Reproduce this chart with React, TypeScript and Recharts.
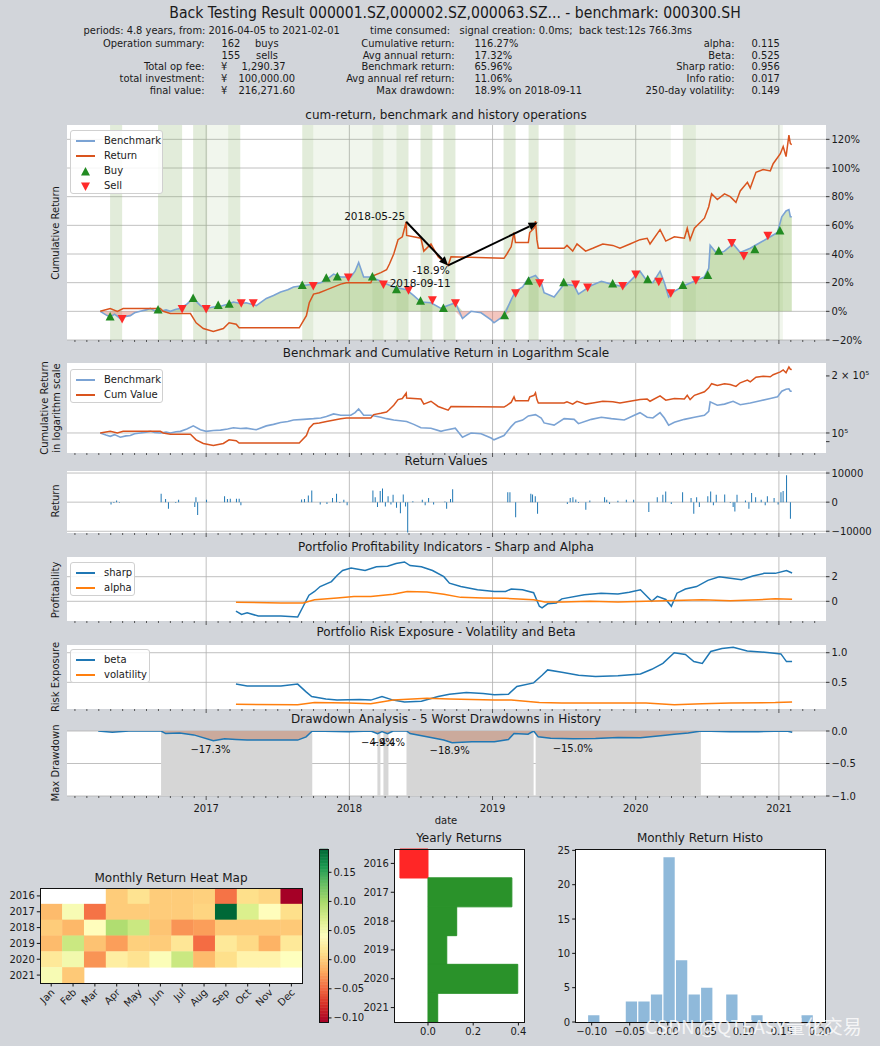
import React from 'react'
import {
  ComposedChart,
  BarChart,
  Line,
  Area,
  Bar,
  Scatter,
  Cell,
  XAxis,
  YAxis,
  CartesianGrid,
  ReferenceLine,
  ReferenceArea,
  ReferenceDot,
} from 'recharts'

const FONT = "'DejaVu Sans', sans-serif"
const COND = "'DejaVu Sans Condensed', 'Liberation Sans Narrow', 'DejaVu Sans', sans-serif"
const BG = '#d2d5da'
const GRID = '#b0b0b0'
const INK = '#1a1a1a'
const TK = { fontSize: 10, fill: INK, fontFamily: FONT }

const BENCH_C = '#7ba3d4'
const RET_C = '#d9541e'
const BLUE = '#1f77b4'
const ORANGE = '#ff7f0e'

// ---- time axis (fractional years) shared by the six stacked panels
const X_DOMAIN: [number, number] = [2016.028, 2021.329]
const YEARS = [2017, 2018, 2019, 2020, 2021]

// ---- cumulative return of benchmark / strategy  [year, return]
const BENCH_PTS: [number, number][] = [
  [2016.26, 0], [2016.3, -0.025], [2016.33, -0.04], [2016.36, -0.02], [2016.4, -0.05], [2016.44, -0.035],
  [2016.47, -0.03], [2016.5, -0.01], [2016.54, 0.0], [2016.58, 0.01], [2016.61, 0.02], [2016.64, 0.005],
  [2016.68, 0.0], [2016.72, 0.01], [2016.75, 0.0], [2016.79, 0.015], [2016.82, 0.02], [2016.865, 0.05],
  [2016.91, 0.09], [2016.96, 0.04], [2017.0, 0.02], [2017.05, 0.03], [2017.1, 0.035], [2017.15, 0.05],
  [2017.19, 0.065], [2017.24, 0.055], [2017.28, 0.06], [2017.35, 0.04], [2017.42, 0.09], [2017.47, 0.11],
  [2017.52, 0.135], [2017.57, 0.15], [2017.61, 0.17], [2017.68, 0.18], [2017.75, 0.19], [2017.8, 0.2],
  [2017.84, 0.22], [2017.89, 0.26], [2017.94, 0.24], [2018.01, 0.24], [2018.04, 0.28],
  [2018.065, 0.34], [2018.1, 0.24], [2018.15, 0.24], [2018.22, 0.21], [2018.26, 0.19],
  [2018.31, 0.17], [2018.4, 0.15], [2018.45, 0.11], [2018.5, 0.065], [2018.57, 0.06], [2018.64, 0.02],
  [2018.66, 0.03], [2018.74, 0.06], [2018.79, -0.05], [2018.85, 0.0], [2018.92, -0.01],
  [2018.99, -0.06], [2019.01, -0.08], [2019.08, -0.03], [2019.13, 0.08], [2019.16, 0.14],
  [2019.21, 0.17], [2019.25, 0.23], [2019.3, 0.25], [2019.34, 0.2], [2019.36, 0.13],
  [2019.43, 0.1], [2019.5, 0.19], [2019.57, 0.18], [2019.6, 0.12], [2019.69, 0.18],
  [2019.76, 0.21], [2019.83, 0.19], [2019.92, 0.17], [2019.99, 0.24], [2020.03, 0.28],
  [2020.08, 0.21], [2020.12, 0.2], [2020.17, 0.28], [2020.2, 0.2], [2020.23, 0.1],
  [2020.27, 0.14], [2020.34, 0.18], [2020.41, 0.21], [2020.48, 0.24], [2020.51, 0.3],
  [2020.52, 0.46], [2020.57, 0.4], [2020.62, 0.42], [2020.68, 0.47], [2020.73, 0.41],
  [2020.8, 0.44], [2020.87, 0.48], [2020.94, 0.52], [2020.99, 0.55], [2021.02, 0.66],
  [2021.05, 0.7], [2021.07, 0.71], [2021.08, 0.66], [2021.09, 0.66],
]

const RETURN_PTS: [number, number][] = [
  [2016.26, 0], [2016.33, 0.02], [2016.38, 0], [2016.42, 0.02], [2016.68, 0.02],
  [2016.7, 0], [2016.75, -0.015], [2016.89, -0.015], [2016.93, -0.08], [2016.98, -0.12],
  [2017.05, -0.14], [2017.12, -0.12], [2017.16, -0.08], [2017.21, -0.09], [2017.23, -0.115],
  [2017.65, -0.115], [2017.7, -0.03], [2017.72, 0.06], [2017.75, 0.12], [2017.79, 0.13],
  [2017.84, 0.15], [2017.94, 0.19], [2017.98, 0.2], [2018.15, 0.2], [2018.17, 0.25],
  [2018.22, 0.27], [2018.26, 0.29], [2018.28, 0.33], [2018.31, 0.4], [2018.34, 0.5],
  [2018.37, 0.52], [2018.397, 0.625], [2018.4, 0.53], [2018.5, 0.51], [2018.52, 0.42],
  [2018.57, 0.47], [2018.62, 0.38], [2018.69, 0.32], [2018.71, 0.38], [2019.08, 0.37],
  [2019.1, 0.4], [2019.13, 0.45], [2019.15, 0.55], [2019.16, 0.48], [2019.25, 0.48],
  [2019.26, 0.55], [2019.29, 0.58], [2019.3, 0.63], [2019.31, 0.5], [2019.32, 0.44],
  [2019.5, 0.44], [2019.52, 0.46], [2019.56, 0.42], [2019.59, 0.47], [2019.65, 0.42],
  [2019.7, 0.44], [2019.77, 0.47], [2019.84, 0.46], [2019.89, 0.44], [2019.96, 0.47],
  [2020.03, 0.5], [2020.08, 0.51], [2020.1, 0.47], [2020.17, 0.57], [2020.21, 0.49],
  [2020.27, 0.52], [2020.34, 0.51], [2020.36, 0.58], [2020.38, 0.5], [2020.41, 0.58],
  [2020.48, 0.65], [2020.51, 0.73], [2020.53, 0.82], [2020.57, 0.78], [2020.62, 0.82],
  [2020.66, 0.8], [2020.7, 0.76], [2020.73, 0.84], [2020.78, 0.9], [2020.8, 0.86],
  [2020.84, 0.97], [2020.89, 0.99], [2020.94, 0.98], [2020.96, 1.03], [2021.01, 1.1],
  [2021.03, 1.15], [2021.05, 1.08], [2021.07, 1.23], [2021.08, 1.17], [2021.09, 1.163],
]

const BUY_PTS: [number, number][] = [
  [2016.329, -0.04], [2016.664, 0.01], [2016.909, 0.09], [2017.084, 0.04], [2017.161, 0.05],
  [2017.671, 0.18], [2017.839, 0.23], [2017.916, 0.24], [2018.161, 0.24], [2018.329, 0.15],
  [2018.497, 0.07], [2018.657, 0.02], [2019.084, -0.03], [2019.252, 0.21], [2019.497, 0.2],
  [2019.839, 0.19], [2020.084, 0.22], [2020.329, 0.18], [2020.503, 0.25], [2020.58, 0.42],
  [2020.832, 0.43], [2021.007, 0.56],
]

const SELL_PTS: [number, number][] = [
  [2016.413, -0.05], [2016.832, 0.02], [2017.0, 0.02], [2017.245, 0.06], [2017.329, 0.06],
  [2017.748, 0.18], [2017.993, 0.24], [2018.238, 0.19], [2018.413, 0.15], [2018.58, 0.08],
  [2018.741, 0.06], [2019.161, 0.13], [2019.329, 0.2], [2019.58, 0.19], [2019.664, 0.17],
  [2019.909, 0.18], [2020.0, 0.26], [2020.161, 0.21], [2020.245, 0.13], [2020.42, 0.22],
  [2020.671, 0.48], [2020.755, 0.39], [2020.923, 0.53],
]

// holding periods shown as green bands  [start, end]
const HOLD_DARK: [number, number][] = [
  [2016.329, 2016.413], [2016.664, 2016.832], [2016.909, 2017.007], [2017.154, 2017.238],
  [2017.671, 2017.748], [2018.161, 2018.238], [2018.329, 2018.413], [2018.497, 2018.58],
  [2018.657, 2018.741], [2019.077, 2019.161], [2019.252, 2019.322], [2019.497, 2019.58],
  [2020.329, 2020.42],
]
const HOLD_LIGHT: [number, number][] = [
  [2017.007, 2017.154], [2017.748, 2018.161], [2018.238, 2018.329], [2019.58, 2020.245],
  [2020.42, 2020.503], [2020.503, 2021.028],
]

// ---- daily return values (bars)
const RET_BARS: [number, number][] = [
  [2016.336, -800], [2016.356, -300], [2016.375, 600], [2016.395, -200], [2016.686, 2900],
  [2016.717, 1100], [2016.737, -2300], [2016.788, -300], [2016.808, 800], [2016.921, -1700],
  [2016.929, 1700], [2016.941, -4400], [2017.003, 800], [2017.129, 2000], [2017.149, 1100],
  [2017.169, 1200], [2017.212, 1200], [2017.231, 1200], [2017.243, -1100], [2017.667, 900],
  [2017.687, 1100], [2017.714, 2300], [2017.738, 4000], [2017.797, -800], [2017.844, -600],
  [2017.883, 1400], [2017.911, 2900], [2017.934, -300], [2017.962, 800], [2017.985, -1100],
  [2018.165, 4000], [2018.181, 1700], [2018.197, -1700], [2018.216, 3800], [2018.232, 4700],
  [2018.252, -1500], [2018.271, 2000], [2018.291, -800], [2018.306, 2500], [2018.33, -1900],
  [2018.357, -3800], [2018.377, 2600], [2018.393, -1500], [2018.408, -10400], [2018.444, 300],
  [2018.51, 800], [2018.53, -1100], [2018.554, 1400], [2018.589, -800], [2018.668, 200],
  [2018.68, -2300], [2018.707, 1100], [2018.722, 4400], [2019.107, 3400], [2019.122, 3400],
  [2019.162, -5200], [2019.268, 2900], [2019.28, 2600], [2019.299, 2000], [2019.315, -4000],
  [2019.523, -600], [2019.543, 1400], [2019.562, 1700], [2019.582, 900], [2019.601, -300],
  [2019.652, -2600], [2019.68, 600], [2019.783, 1700], [2019.798, 800], [2019.818, -600],
  [2019.876, 500], [2019.935, 800], [2019.986, 800], [2020.092, -3400], [2020.151, 1700],
  [2020.19, 2500], [2020.21, 3700], [2020.249, -600], [2020.328, 3400], [2020.387, 1400],
  [2020.406, -4000], [2020.426, 1700], [2020.445, -1700], [2020.504, 2000], [2020.524, 3700],
  [2020.543, -1100], [2020.563, 2500], [2020.622, 2600], [2020.661, -300], [2020.681, -1700],
  [2020.693, -3200], [2020.708, 2500], [2020.767, 600], [2020.791, -2300], [2020.81, 3100],
  [2020.838, 1700], [2020.877, 800], [2020.905, -1100], [2020.92, 2000], [2020.967, 1400],
  [2020.995, -800], [2021.015, 3400], [2021.03, 3800], [2021.054, 9200], [2021.081, -5700],
]

// ---- rolling indicators
const SHARP_PTS: [number, number][] = [
  [2017.208, -0.8], [2017.247, -1.07], [2017.286, -0.93], [2017.364, -1.2], [2017.522, -1.2],
  [2017.639, -1.28], [2017.678, -0.4], [2017.718, 0.5], [2017.757, 0.8], [2017.796, 1.2],
  [2017.875, 1.6], [2017.914, 2.1], [2017.953, 2.5], [2018.012, 2.7], [2018.11, 2.5],
  [2018.189, 2.8], [2018.267, 2.85], [2018.326, 3.07], [2018.385, 3.2], [2018.424, 2.9],
  [2018.503, 2.8], [2018.581, 2.5], [2018.66, 2.0], [2018.699, 1.47], [2018.778, 1.2],
  [2018.895, 0.94], [2019.013, 0.8], [2019.091, 0.8], [2019.131, 1.0], [2019.209, 0.94],
  [2019.287, 0.7], [2019.327, -0.4], [2019.346, -0.53], [2019.385, -0.2], [2019.445, -0.13],
  [2019.484, 0.2], [2019.641, 0.53], [2019.758, 0.66], [2019.876, 0.6], [2019.955, 0.73],
  [2020.033, 0.94], [2020.112, 0.0], [2020.151, 0.4], [2020.21, 0.15], [2020.249, -0.4],
  [2020.288, 0.66], [2020.347, 1.0], [2020.425, 1.2], [2020.504, 1.7], [2020.583, 2.0],
  [2020.661, 1.87], [2020.739, 1.75], [2020.818, 2.05], [2020.897, 2.27], [2020.975, 2.27],
  [2021.053, 2.5], [2021.092, 2.3],
]
const ALPHA_PTS: [number, number][] = [
  [2017.208, -0.08], [2017.522, -0.13], [2017.678, -0.13], [2017.757, 0.13], [2017.914, 0.27],
  [2018.032, 0.4], [2018.15, 0.4], [2018.306, 0.58], [2018.404, 0.8], [2018.542, 0.75],
  [2018.66, 0.58], [2018.778, 0.32], [2018.934, 0.27], [2019.091, 0.24], [2019.287, 0.13],
  [2019.366, -0.05], [2019.484, -0.05], [2019.68, 0.0], [2019.876, -0.05], [2020.072, 0.0],
  [2020.269, 0.07], [2020.465, 0.13], [2020.661, 0.05], [2020.857, 0.13], [2020.975, 0.2],
  [2021.092, 0.17],
]
const BETA_PTS: [number, number][] = [
  [2017.208, 0.47], [2017.286, 0.44], [2017.522, 0.44], [2017.639, 0.47], [2017.698, 0.34],
  [2017.737, 0.26], [2017.836, 0.22], [2017.914, 0.2], [2018.071, 0.21], [2018.15, 0.2],
  [2018.228, 0.26], [2018.306, 0.2], [2018.385, 0.17], [2018.503, 0.18], [2018.62, 0.26],
  [2018.699, 0.3], [2018.817, 0.33], [2018.934, 0.31], [2019.013, 0.29], [2019.111, 0.3],
  [2019.17, 0.43], [2019.287, 0.49], [2019.346, 0.62], [2019.385, 0.71], [2019.484, 0.67],
  [2019.601, 0.62], [2019.719, 0.6], [2019.876, 0.61], [2020.033, 0.64], [2020.112, 0.72],
  [2020.19, 0.82], [2020.269, 1.0], [2020.347, 0.97], [2020.406, 0.85], [2020.465, 0.82],
  [2020.524, 1.02], [2020.602, 1.07], [2020.681, 1.09], [2020.779, 1.03], [2020.936, 1.0],
  [2021.014, 0.98], [2021.053, 0.85], [2021.092, 0.85],
]
const VOL_PTS: [number, number][] = [
  [2017.208, 0.13], [2017.639, 0.12], [2017.757, 0.16], [2017.993, 0.15], [2018.15, 0.14],
  [2018.306, 0.2], [2018.542, 0.23], [2018.699, 0.22], [2019.013, 0.2], [2019.131, 0.2],
  [2019.327, 0.16], [2019.484, 0.15], [2019.876, 0.15], [2020.072, 0.15], [2020.269, 0.12],
  [2020.465, 0.14], [2020.661, 0.15], [2020.975, 0.16], [2021.092, 0.17],
]

// ---- drawdown
const DD_PTS: [number, number][] = [
  [2016.246, 0], [2016.344, -0.02], [2016.46, 0], [2016.685, 0], [2016.717, -0.04],
  [2016.815, -0.03], [2016.913, -0.06], [2017.05, -0.15], [2017.129, -0.12], [2017.208, -0.13],
  [2017.286, -0.14], [2017.639, -0.14], [2017.698, -0.09], [2017.741, 0], [2017.993, -0.01],
  [2018.15, 0], [2018.197, -0.04], [2018.228, -0.01], [2018.267, -0.04], [2018.306, 0],
  [2018.4, 0], [2018.424, -0.04], [2018.542, -0.09], [2018.659, -0.14], [2018.718, -0.18],
  [2018.856, -0.165], [2019.013, -0.165], [2019.111, -0.13], [2019.15, -0.04], [2019.248, -0.05],
  [2019.287, 0], [2019.319, -0.09], [2019.406, -0.11], [2019.562, -0.12], [2019.719, -0.115],
  [2019.876, -0.1], [2020.033, -0.105], [2020.19, -0.07], [2020.269, -0.05], [2020.367, -0.03],
  [2020.457, 0], [2020.661, -0.01], [2020.857, -0.01], [2021.054, 0], [2021.093, -0.02],
]
const DD_PERIODS: [number, number][] = [
  [2016.685, 2017.741], [2018.196, 2018.217], [2018.238, 2018.273], [2018.399, 2019.287],
  [2019.301, 2020.455],
]
const DD_LABELS: [number, number, string][] = [
  [2017.03, -0.28, '\u221217.3%'], [2018.2, -0.17, '\u22124.9%'], [2018.27, -0.17, '\u22124.4%'],
  [2018.7, -0.29, '\u221218.9%'], [2019.56, -0.26, '\u221215.0%'],
]

// ---- monthly heat map
const MONTHS = ['Jan', 'Feb', 'Mar', 'Apr', 'May', 'Jun', 'Jul', 'Aug', 'Sep', 'Oct', 'Nov', 'Dec']
const HEAT_YEARS = ['2016', '2017', '2018', '2019', '2020', '2021']
const HEAT_ROWS: (number | null)[][] = [
  [null, null, null, 0.0, 0.015, 0.0, 0.0, 0.002, -0.045, 0.012, 0.006, -0.107],
  [-0.01, 0.048, -0.045, 0.0, 0.0, 0.0, 0.0, 0.005, 0.19, 0.07, 0.04, 0.012],
  [0.0, -0.012, 0.04, 0.095, 0.08, -0.005, -0.03, -0.025, -0.002, -0.002, -0.002, -0.002],
  [-0.01, 0.08, -0.006, -0.025, 0.002, 0.0, 0.018, -0.048, 0.02, 0.008, -0.015, 0.02],
  [0.02, 0.052, -0.03, 0.025, 0.015, 0.045, 0.08, -0.01, 0.012, 0.03, 0.03, 0.042],
  [0.048, -0.002, null, null, null, null, null, null, null, null, null, null],
]
const VMIN = -0.107
const VMAX = 0.19
const CBAR_TICKS = [-0.1, -0.05, 0, 0.05, 0.1, 0.15]

// ---- yearly returns
const YEARLY_LABELS = ['2016', '2017', '2018', '2019', '2020', '2021']
const YEARLY_RET = [-0.124, 0.371, 0.127, 0.083, 0.397, 0.043]

// ---- monthly return histogram
const HIST_EDGE0 = -0.106
const HIST_W = 0.0165
const HIST_COUNTS = [1, 0, 0, 3, 3, 4, 24, 9, 4, 5, 0, 4, 0, 1, 0, 0, 0, 1]

// ---------- helpers
const pts = (a: [number, number][]) => a.map(([x, y]) => ({ x, y }))
const BENCH = pts(BENCH_PTS)
const RET = pts(RETURN_PTS)
const BENCH_POS = BENCH.map((p) => ({ x: p.x, y: Math.max(p.y, 0) }))
const BENCH_NEG = BENCH.map((p) => ({ x: p.x, y: Math.min(p.y, 0) }))
const BENCH_VAL = BENCH.map((p) => ({ x: p.x, y: 100000 * (1 + p.y) }))
const RET_VAL = RET.map((p) => ({ x: p.x, y: 100000 * (1 + p.y) }))

const MONTH_TICKS: number[] = []
for (let yr = 2016; yr <= 2021; yr++) {
  for (let m = 0; m < 12; m++) {
    const t = yr + m / 12
    if (t > X_DOMAIN[0] && t < X_DOMAIN[1]) MONTH_TICKS.push(t)
  }
}

const RDYLGN = ['#a50026', '#d73027', '#f46d43', '#fdae61', '#fee08b', '#ffffbf', '#d9ef8b', '#a6d96a', '#66bd63', '#1a9850', '#006837']
function cmap(v: number): string {
  const t = Math.min(1, Math.max(0, (v - VMIN) / (VMAX - VMIN))) * 10
  const i = Math.min(9, Math.floor(t))
  const f = t - i
  const a = RDYLGN[i]
  const b = RDYLGN[i + 1]
  const c = [1, 3, 5].map((k) => {
    const ca = parseInt(a.slice(k, k + 2), 16)
    const cb = parseInt(b.slice(k, k + 2), 16)
    return Math.round(ca + (cb - ca) * f)
  })
  return `rgb(${c[0]},${c[1]},${c[2]})`
}

const minus = (s: string) => s.replace('-', '\u2212')
const pct = (v: number) => minus(`${Math.round(v * 100)}%`)

function Txt({ x, y, anchor = 'start', size = 10, family = FONT, color = INK, rotate, children }: any) {
  const tx = anchor === 'middle' ? '-50%' : anchor === 'end' ? '-100%' : '0'
  return (
    <div
      style={{
        position: 'absolute', left: x, top: y, fontSize: size, fontFamily: family, color,
        whiteSpace: 'pre', lineHeight: 1.15, textAlign: 'center',
        transform: `translate(${tx}, -50%)${rotate ? ` rotate(${rotate}deg)` : ''}`,
      }}
    >
      {children}
    </div>
  )
}

function MonthTick(props: any) {
  const { x, y, payload, withLabel } = props
  const v = payload.value
  const major = Math.abs(v - Math.round(v)) < 1e-6
  return (
    <g>
      <line x1={x} x2={x} y1={y} y2={y + (major ? 4 : 2)} stroke="#333" strokeWidth={0.8} />
      {withLabel && major ? (
        <text x={x} y={y + 16} textAnchor="middle" fontSize={10} fill={INK} fontFamily={FONT}>
          {Math.round(v)}
        </text>
      ) : null}
    </g>
  )
}

function Arrow(p: any) {
  const { x1, y1, x2, y2 } = p
  const ang = Math.atan2(y2 - y1, x2 - x1)
  const L = 9
  const W = 4
  const bx = x2 - L * Math.cos(ang)
  const by = y2 - L * Math.sin(ang)
  const nx = -Math.sin(ang) * W
  const ny = Math.cos(ang) * W
  return (
    <g>
      <line x1={x1} y1={y1} x2={bx} y2={by} stroke="#000" strokeWidth={2} />
      <polygon points={`${x2},${y2} ${bx + nx},${by + ny} ${bx - nx},${by - ny}`} fill="#000" />
    </g>
  )
}

const textAt = (txt: string, dx: number, dy: number, anchor = 'middle', size = 10.5) =>
  (p: any) => (
    <text x={p.cx + dx} y={p.cy + dy} textAnchor={anchor} fontSize={size} fontFamily={FONT} fill="#111">
      {txt}
    </text>
  )

const TriUp = (p: any) => (
  <polygon points={`${p.cx},${p.cy - 5} ${p.cx - 4.5},${p.cy + 3.5} ${p.cx + 4.5},${p.cy + 3.5}`} fill="#228b22" />
)
const TriDown = (p: any) => (
  <polygon points={`${p.cx},${p.cy + 5} ${p.cx - 4.5},${p.cy - 3.5} ${p.cx + 4.5},${p.cy - 3.5}`} fill="#ff2a2a" />
)

interface PanelProps {
  top: number
  plotH: number
  yDomain: [number, number]
  yTicks: number[]
  yFmt: (v: number) => string
  gridY: number[]
  logY?: boolean
  showYears?: boolean
  data?: any[]
  children?: React.ReactNode
}

function TimePanel(props: PanelProps) {
  const xh = props.showYears ? 22 : 8
  return (
    <div style={{ position: 'absolute', left: 0, top: props.top - 8 }}>
      <ComposedChart
        width={880}
        height={8 + props.plotH + xh}
        data={props.data}
        margin={{ top: 8, right: 0, bottom: 0, left: 67 }}
      >
        <CartesianGrid
          fill="#ffffff"
          stroke={GRID}
          strokeWidth={0.8}
          horizontalValues={props.gridY}
          verticalValues={YEARS}
        />
        <XAxis
          type="number"
          dataKey="x"
          domain={X_DOMAIN}
          allowDataOverflow
          ticks={MONTH_TICKS}
          interval={0}
          tickSize={0}
          tickMargin={0}
          axisLine={false}
          tickLine={false}
          height={xh}
          tick={(p: any) => <MonthTick {...p} withLabel={props.showYears} />}
        />
        <YAxis
          orientation="right"
          type="number"
          scale={props.logY ? 'log' : 'auto'}
          domain={props.yDomain}
          allowDataOverflow
          ticks={props.yTicks}
          interval={0}
          tickFormatter={props.yFmt}
          width={54}
          axisLine={false}
          tickSize={3.5}
          tickLine={{ stroke: '#333' }}
          tick={TK}
        />
        {props.children}
      </ComposedChart>
    </div>
  )
}

function LegendBox({ x, y, w, items }: { x: number; y: number; w: number; items: { label: string; color: string; kind: string }[] }) {
  return (
    <div
      style={{
        position: 'absolute', left: x, top: y, width: w, height: items.length * 15 + 4,
        background: 'rgba(255,255,255,0.85)', border: '1px solid #d0d0d0', borderRadius: 3,
        boxSizing: 'border-box',
      }}
    >
      {items.map((it, i) => (
        <div key={it.label} style={{ position: 'absolute', left: 0, top: 3 + i * 15, height: 14, width: w }}>
          {it.kind === 'line' ? (
            <div style={{ position: 'absolute', left: 5, top: 6, width: 19, height: 2, background: it.color }} />
          ) : (
            <svg style={{ position: 'absolute', left: 9, top: 2 }} width={11} height={11}>
              {it.kind === 'up' ? (
                <polygon points="5.5,1 1,9.5 10,9.5" fill={it.color} />
              ) : (
                <polygon points="5.5,10 1,1.5 10,1.5" fill={it.color} />
              )}
            </svg>
          )}
          <span style={{ position: 'absolute', left: 33, top: 0, fontSize: 10, fontFamily: FONT, color: INK, lineHeight: '14px' }}>
            {it.label}
          </span>
        </div>
      ))}
    </div>
  )
}

const Frame = ({ x0, y0, x1, y1 }: { x0: number; y0: number; x1: number; y1: number }) => (
  <div
    style={{
      position: 'absolute', left: x0 - 0.5, top: y0 - 0.5, width: x1 - x0 + 1, height: y1 - y0 + 1,
      border: '1px solid #111', boxSizing: 'border-box', pointerEvents: 'none',
    }}
  />
)

export default function App() {
  const heatCells: { x: number; y: number; v: number }[] = []
  HEAT_ROWS.forEach((row, yi) =>
    row.forEach((v, m) => {
      if (v !== null) heatCells.push({ x: m, y: yi, v })
    })
  )
  const CW = 262 / 12
  const CH = 95 / 6
  const yearly = YEARLY_LABELS.map((year, i) => ({ year, v: YEARLY_RET[i] }))
  const hist = HIST_COUNTS.map((n, i) => ({ x: HIST_EDGE0 + (i + 0.5) * HIST_W, n }))
  const histScale = 250.3 / (0.208 + 0.121)
  const cbarSteps = 60
  const cbar = Array.from({ length: cbarSteps }, (_, i) => {
    const a = VMIN + ((VMAX - VMIN) * i) / cbarSteps
    const b = VMIN + ((VMAX - VMIN) * (i + 1)) / cbarSteps
    return { a, b, c: cmap((a + b) / 2) }
  })
  const HS = 11

  return (
    <div style={{ position: 'absolute', left: 0, top: 0, width: 880, height: 1046, background: BG, overflow: 'hidden' }}>
      {/* ---------- panel 1: cumulative return */}
      <TimePanel
        top={125}
        plotH={215}
        yDomain={[-0.2, 1.3]}
        yTicks={[-0.2, 0, 0.2, 0.4, 0.6, 0.8, 1.0, 1.2]}
        yFmt={pct}
        gridY={[-0.2, 0, 0.2, 0.4, 0.6, 0.8, 1.0, 1.2]}
      >
        {HOLD_DARK.map(([a, b]) => (
          <ReferenceArea key={'d' + a} x1={a} x2={b} y1={-0.2} y2={1.3} fill="#8db56a" fillOpacity={0.25} stroke="none" />
        ))}
        {HOLD_LIGHT.map(([a, b]) => (
          <ReferenceArea key={'l' + a} x1={a} x2={b} y1={-0.2} y2={1.3} fill="#8db56a" fillOpacity={0.12} stroke="none" />
        ))}
        <Area data={BENCH_POS} dataKey="y" baseValue={0} type="linear" stroke="none" fill="#7fb24a" fillOpacity={0.35} isAnimationActive={false} />
        <Area data={BENCH_NEG} dataKey="y" baseValue={0} type="linear" stroke="none" fill="#e07060" fillOpacity={0.4} isAnimationActive={false} />
        <Line data={BENCH} dataKey="y" type="linear" stroke={BENCH_C} strokeWidth={1.6} dot={false} activeDot={false} isAnimationActive={false} />
        <Line data={RET} dataKey="y" type="linear" stroke={RET_C} strokeWidth={1.5} dot={false} activeDot={false} isAnimationActive={false} />
        <Scatter data={pts(BUY_PTS)} dataKey="y" shape={TriUp} isAnimationActive={false} />
        <Scatter data={pts(SELL_PTS)} dataKey="y" shape={TriDown} isAnimationActive={false} />
        <ReferenceLine segment={[{ x: 2018.397, y: 0.625 }, { x: 2018.69, y: 0.32 }]} shape={Arrow} />
        <ReferenceLine segment={[{ x: 2018.69, y: 0.32 }, { x: 2019.315, y: 0.62 }]} shape={Arrow} />
        <ReferenceDot x={2018.397} y={0.625} shape={textAt('2018-05-25', -1, -2, 'end')} />
        <ReferenceDot x={2018.69} y={0.32} shape={textAt('-18.9%', -17, 9)} />
        <ReferenceDot x={2018.69} y={0.32} shape={textAt('2018-09-11', -28, 22)} />
      </TimePanel>

      {/* ---------- panel 2: log scale */}
      <TimePanel
        top={363}
        plotH={90}
        yDomain={[78400, 234000]}
        yTicks={[90000, 100000, 200000]}
        yFmt={(v) => (v === 100000 ? '10\u2075' : v === 200000 ? '2 \u00d7 10\u2075' : '')}
        gridY={[100000]}
        logY
      >
        <Line data={BENCH_VAL} dataKey="y" type="linear" stroke={BENCH_C} strokeWidth={1.6} dot={false} activeDot={false} isAnimationActive={false} />
        <Line data={RET_VAL} dataKey="y" type="linear" stroke={RET_C} strokeWidth={1.5} dot={false} activeDot={false} isAnimationActive={false} />
      </TimePanel>

      {/* ---------- panel 3: return values */}
      <TimePanel
        top={470.5}
        plotH={62}
        yDomain={[-10600, 10700]}
        yTicks={[-10000, 0, 10000]}
        yFmt={(v) => minus(String(v))}
        gridY={[-10000, 0, 10000]}
        data={pts(RET_BARS)}
      >
        <Bar dataKey="y" fill={BLUE} barSize={1} isAnimationActive={false} />
      </TimePanel>

      {/* ---------- panel 4: sharp & alpha */}
      <TimePanel top={557} plotH={64} yDomain={[-1.6, 3.6]} yTicks={[0, 2]} yFmt={(v) => String(v)} gridY={[0, 2]}>
        <Line data={pts(SHARP_PTS)} dataKey="y" type="linear" stroke={BLUE} strokeWidth={1.5} dot={false} activeDot={false} isAnimationActive={false} />
        <Line data={pts(ALPHA_PTS)} dataKey="y" type="linear" stroke={ORANGE} strokeWidth={1.5} dot={false} activeDot={false} isAnimationActive={false} />
      </TimePanel>

      {/* ---------- panel 5: beta & volatility */}
      <TimePanel top={645} plotH={64} yDomain={[0.05, 1.13]} yTicks={[0.5, 1.0]} yFmt={(v) => v.toFixed(1)} gridY={[0.5, 1.0]}>
        <Line data={pts(BETA_PTS)} dataKey="y" type="linear" stroke={BLUE} strokeWidth={1.5} dot={false} activeDot={false} isAnimationActive={false} />
        <Line data={pts(VOL_PTS)} dataKey="y" type="linear" stroke={ORANGE} strokeWidth={1.5} dot={false} activeDot={false} isAnimationActive={false} />
      </TimePanel>

      {/* ---------- panel 6: drawdown */}
      <TimePanel
        top={731}
        plotH={65}
        yDomain={[-1.0, 0.0]}
        yTicks={[-1.0, -0.5, 0.0]}
        yFmt={(v) => minus(v.toFixed(1))}
        gridY={[-1.0, -0.5, 0.0]}
        showYears
      >
        {DD_PERIODS.map(([a, b]) => (
          <ReferenceArea key={'p' + a} x1={a} x2={b} y1={-1} y2={0} fill="#d6d6d6" fillOpacity={1} stroke="none" />
        ))}
        <Area data={pts(DD_PTS)} dataKey="y" baseValue={0} type="linear" stroke="none" fill="#c9a292" fillOpacity={0.85} isAnimationActive={false} />
        <Line data={pts(DD_PTS)} dataKey="y" type="linear" stroke={BLUE} strokeWidth={1.5} dot={false} activeDot={false} isAnimationActive={false} />
        {DD_LABELS.map(([x, y, s]) => (
          <ReferenceDot key={s + x} x={x} y={y} shape={textAt(s, 0, 4, 'middle', 10)} />
        ))}
      </TimePanel>

      {/* ---------- heat map */}
      <div style={{ position: 'absolute', left: 0, top: 882.3 }}>
        <ComposedChart width={310.3} height={133} data={heatCells} margin={{ top: 6, right: 8, bottom: 0, left: 0 }}>
          <CartesianGrid fill="#ffffff" horizontal={false} vertical={false} />
          <XAxis
            type="number"
            dataKey="x"
            domain={[-0.5, 11.5]}
            ticks={[0, 1, 2, 3, 4, 5, 6, 7, 8, 9, 10, 11]}
            interval={0}
            height={32}
            axisLine={false}
            tickLine={false}
            tickSize={0}
            tickMargin={0}
            tick={(p: any) => (
              <g>
                <line x1={p.x} x2={p.x} y1={p.y} y2={p.y + 3.5} stroke="#111" />
                <text
                  x={p.x + 4}
                  y={p.y + 10}
                  transform={`rotate(-45 ${p.x + 4} ${p.y + 10})`}
                  textAnchor="end"
                  fontSize={10}
                  fontFamily={FONT}
                  fill={INK}
                >
                  {MONTHS[p.payload.value]}
                </text>
              </g>
            )}
          />
          <YAxis
            type="number"
            domain={[-0.5, 5.5]}
            reversed
            ticks={[0, 1, 2, 3, 4, 5]}
            interval={0}
            tickFormatter={(v) => HEAT_YEARS[v]}
            width={40.3}
            axisLine={false}
            tickSize={3.5}
            tickLine={{ stroke: '#111' }}
            tick={TK}
          />
          <Scatter
            dataKey="y"
            isAnimationActive={false}
            shape={(p: any) => (
              <rect x={p.cx - CW / 2} y={p.cy - CH / 2} width={CW + 0.4} height={CH + 0.4} fill={cmap(p.payload.v)} />
            )}
          />
        </ComposedChart>
      </div>
      <Frame x0={40.3} y0={888.3} x1={302.3} y1={983.3} />

      {/* ---------- colour bar */}
      <div style={{ position: 'absolute', left: 310, top: 843 }}>
        <ComposedChart width={58} height={185} data={cbar} margin={{ top: 6, right: 0, bottom: 6, left: 9 }}>
          <XAxis type="number" dataKey="a" domain={[0, 1]} hide />
          <YAxis
            orientation="right"
            type="number"
            domain={[VMIN, VMAX]}
            allowDataOverflow
            ticks={CBAR_TICKS}
            interval={0}
            tickFormatter={(v) => minus(v.toFixed(2))}
            width={40}
            axisLine={false}
            tickSize={3.5}
            tickLine={{ stroke: '#111' }}
            tick={TK}
          />
          {cbar.map((s, i) => (
            <ReferenceArea key={i} x1={0} x2={1} y1={s.a} y2={s.b} fill={s.c} fillOpacity={1} stroke={s.c} strokeWidth={0.5} />
          ))}
        </ComposedChart>
      </div>
      <Frame x0={319} y0={849} x1={328} y1={1022} />

      {/* ---------- yearly returns */}
      <div style={{ position: 'absolute', left: 350, top: 843.3 }}>
        <BarChart
          width={184.3}
          height={199}
          data={yearly}
          layout="vertical"
          barCategoryGap={0}
          margin={{ top: 6, right: 10, bottom: 0, left: 0 }}
        >
          <CartesianGrid fill="#ffffff" horizontal={false} vertical={false} />
          <XAxis
            type="number"
            domain={[-0.149, 0.426]}
            allowDataOverflow
            ticks={[0, 0.2, 0.4]}
            interval={0}
            tickFormatter={(v) => v.toFixed(1)}
            height={20}
            axisLine={false}
            tickSize={3.5}
            tickLine={{ stroke: '#111' }}
            tick={TK}
          />
          <YAxis
            type="category"
            dataKey="year"
            width={44.3}
            axisLine={false}
            tickSize={3.5}
            tickLine={{ stroke: '#111' }}
            tick={TK}
            interval={0}
          />
          <Bar dataKey="v" isAnimationActive={false}>
            {yearly.map((d) => {
              const c = d.v < 0 ? '#ff2626' : '#2a922a'
              return <Cell key={d.year} fill={c} stroke={c} strokeWidth={1} />
            })}
          </Bar>
        </BarChart>
      </div>
      <Frame x0={394.3} y0={849.3} x1={524.3} y1={1022.3} />

      {/* ---------- histogram */}
      <div style={{ position: 'absolute', left: 540, top: 843.3 }}>
        <ComposedChart width={296} height={199} data={hist} margin={{ top: 6, right: 10, bottom: 0, left: 0 }}>
          <CartesianGrid fill="#ffffff" horizontal={false} vertical={false} />
          <XAxis
            type="number"
            dataKey="x"
            domain={[-0.121, 0.208]}
            allowDataOverflow
            ticks={[-0.1, -0.05, 0, 0.05, 0.1, 0.15, 0.2]}
            interval={0}
            tickFormatter={(v) => minus(v.toFixed(2))}
            height={20}
            axisLine={false}
            tickSize={3.5}
            tickLine={{ stroke: '#111' }}
            tick={TK}
          />
          <YAxis
            type="number"
            domain={[0, 25.2]}
            allowDataOverflow
            ticks={[0, 5, 10, 15, 20, 25]}
            interval={0}
            width={35.7}
            axisLine={false}
            tickSize={3.5}
            tickLine={{ stroke: '#111' }}
            tick={TK}
          />
          <Bar dataKey="n" fill="#8fb9da" barSize={HIST_W * histScale} isAnimationActive={false} />
        </ComposedChart>
      </div>
      <Frame x0={575.7} y0={849.3} x1={826} y1={1022.3} />

      {/* ---------- header */}
      <Txt x={455} y={14} anchor="middle" size={15.6} family={COND}>
        Back Testing Result 000001.SZ,000002.SZ,000063.SZ... - benchmark: 000300.SH
      </Txt>
      <Txt x={83.5} y={31} size={HS} family={COND}>periods: 4.8 years, from: 2016-04-05 to 2021-02-01</Txt>
      <Txt x={370} y={31} size={HS} family={COND}>time consumed:   signal creation: 0.0ms;  back test:12s 766.3ms</Txt>

      <Txt x={204.5} y={44} size={HS} anchor="end" family={COND}>Operation summary:</Txt>
      <Txt x={221.5} y={44} size={HS} family={COND}>162</Txt>
      <Txt x={255} y={44} size={HS} family={COND}>buys</Txt>
      <Txt x={221.5} y={55.5} size={HS} family={COND}>155</Txt>
      <Txt x={256} y={55.5} size={HS} family={COND}>sells</Txt>
      <Txt x={204.5} y={67} size={HS} anchor="end" family={COND}>Total op fee:</Txt>
      <Txt x={221} y={67} size={HS} family={COND}>¥</Txt>
      <Txt x={241.5} y={67} size={HS} family={COND}>1,290.37</Txt>
      <Txt x={204.5} y={79} size={HS} anchor="end" family={COND}>total investment:</Txt>
      <Txt x={221} y={79} size={HS} family={COND}>¥</Txt>
      <Txt x={238.5} y={79} size={HS} family={COND}>100,000.00</Txt>
      <Txt x={204.5} y={90.5} size={HS} anchor="end" family={COND}>final value:</Txt>
      <Txt x={221} y={90.5} size={HS} family={COND}>¥</Txt>
      <Txt x={238.5} y={90.5} size={HS} family={COND}>216,271.60</Txt>

      <Txt x={454.5} y={44} size={HS} anchor="end" family={COND}>Cumulative return:</Txt>
      <Txt x={454.5} y={55.5} size={HS} anchor="end" family={COND}>Avg annual return:</Txt>
      <Txt x={454.5} y={67} size={HS} anchor="end" family={COND}>Benchmark return:</Txt>
      <Txt x={454.5} y={79} size={HS} anchor="end" family={COND}>Avg annual ref return:</Txt>
      <Txt x={454.5} y={90.5} size={HS} anchor="end" family={COND}>Max drawdown:</Txt>
      <Txt x={474.5} y={44} size={HS} family={COND}>116.27%</Txt>
      <Txt x={474.5} y={55.5} size={HS} family={COND}>17.32%</Txt>
      <Txt x={474.5} y={67} size={HS} family={COND}>65.96%</Txt>
      <Txt x={474.5} y={79} size={HS} family={COND}>11.06%</Txt>
      <Txt x={474.5} y={90.5} size={HS} family={COND}>18.9% on 2018-09-11</Txt>

      <Txt x={734.5} y={44} size={HS} anchor="end" family={COND}>alpha:</Txt>
      <Txt x={734.5} y={55.5} size={HS} anchor="end" family={COND}>Beta:</Txt>
      <Txt x={734.5} y={67} size={HS} anchor="end" family={COND}>Sharp ratio:</Txt>
      <Txt x={734.5} y={79} size={HS} anchor="end" family={COND}>Info ratio:</Txt>
      <Txt x={734.5} y={90.5} size={HS} anchor="end" family={COND}>250-day volatility:</Txt>
      <Txt x={751.5} y={44} size={HS} family={COND}>0.115</Txt>
      <Txt x={751.5} y={55.5} size={HS} family={COND}>0.525</Txt>
      <Txt x={751.5} y={67} size={HS} family={COND}>0.956</Txt>
      <Txt x={751.5} y={79} size={HS} family={COND}>0.017</Txt>
      <Txt x={751.5} y={90.5} size={HS} family={COND}>0.149</Txt>

      {/* ---------- panel titles */}
      <Txt x={446} y={116} anchor="middle" size={12}>cum-return, benchmark and history operations</Txt>
      <Txt x={446} y={354} anchor="middle" size={12}>Benchmark and Cumulative Return in Logarithm Scale</Txt>
      <Txt x={446} y={462} anchor="middle" size={12}>Return Values</Txt>
      <Txt x={446} y={548} anchor="middle" size={12}>Portfolio Profitability Indicators - Sharp and Alpha</Txt>
      <Txt x={446} y={633} anchor="middle" size={12}>Portfolio Risk Exposure - Volatility and Beta</Txt>
      <Txt x={446} y={720} anchor="middle" size={12}>Drawdown Analysis - 5 Worst Drawdowns in History</Txt>
      <Txt x={446} y={821} anchor="middle" size={10}>date</Txt>
      <Txt x={171} y={879} anchor="middle" size={12}>Monthly Return Heat Map</Txt>
      <Txt x={459} y={839} anchor="middle" size={12}>Yearly Returns</Txt>
      <Txt x={700} y={839} anchor="middle" size={12}>Monthly Return Histo</Txt>

      {/* ---------- y labels */}
      <Txt x={56} y={233} anchor="middle" rotate={-90}>Cumulative Return</Txt>
      <Txt x={50} y={408} anchor="middle" rotate={-90}>{'Cumulative Return\nin logarithm scale'}</Txt>
      <Txt x={56} y={501} anchor="middle" rotate={-90}>Return</Txt>
      <Txt x={56} y={590} anchor="middle" rotate={-90}>Profitability</Txt>
      <Txt x={56} y={677} anchor="middle" rotate={-90}>Risk Exposure</Txt>
      <Txt x={56} y={763} anchor="middle" rotate={-90}>Max Drawdown</Txt>

      {/* ---------- legends */}
      <LegendBox
        x={70}
        y={130}
        w={93}
        items={[
          { label: 'Benchmark', color: BENCH_C, kind: 'line' },
          { label: 'Return', color: RET_C, kind: 'line' },
          { label: 'Buy', color: '#228b22', kind: 'up' },
          { label: 'Sell', color: '#ff2a2a', kind: 'down' },
        ]}
      />
      <LegendBox
        x={70}
        y={369}
        w={93}
        items={[
          { label: 'Benchmark', color: BENCH_C, kind: 'line' },
          { label: 'Cum Value', color: RET_C, kind: 'line' },
        ]}
      />
      <LegendBox
        x={70}
        y={562}
        w={65}
        items={[
          { label: 'sharp', color: BLUE, kind: 'line' },
          { label: 'alpha', color: ORANGE, kind: 'line' },
        ]}
      />
      <LegendBox
        x={70}
        y={649}
        w={80}
        items={[
          { label: 'beta', color: BLUE, kind: 'line' },
          { label: 'volatility', color: ORANGE, kind: 'line' },
        ]}
      />

      <Txt x={645} y={1026} size={19} family="'Noto Sans CJK SC', sans-serif" color="rgba(255,255,255,0.8)">
        CSDN @QTEASY量化交易
      </Txt>
    </div>
  )
}
